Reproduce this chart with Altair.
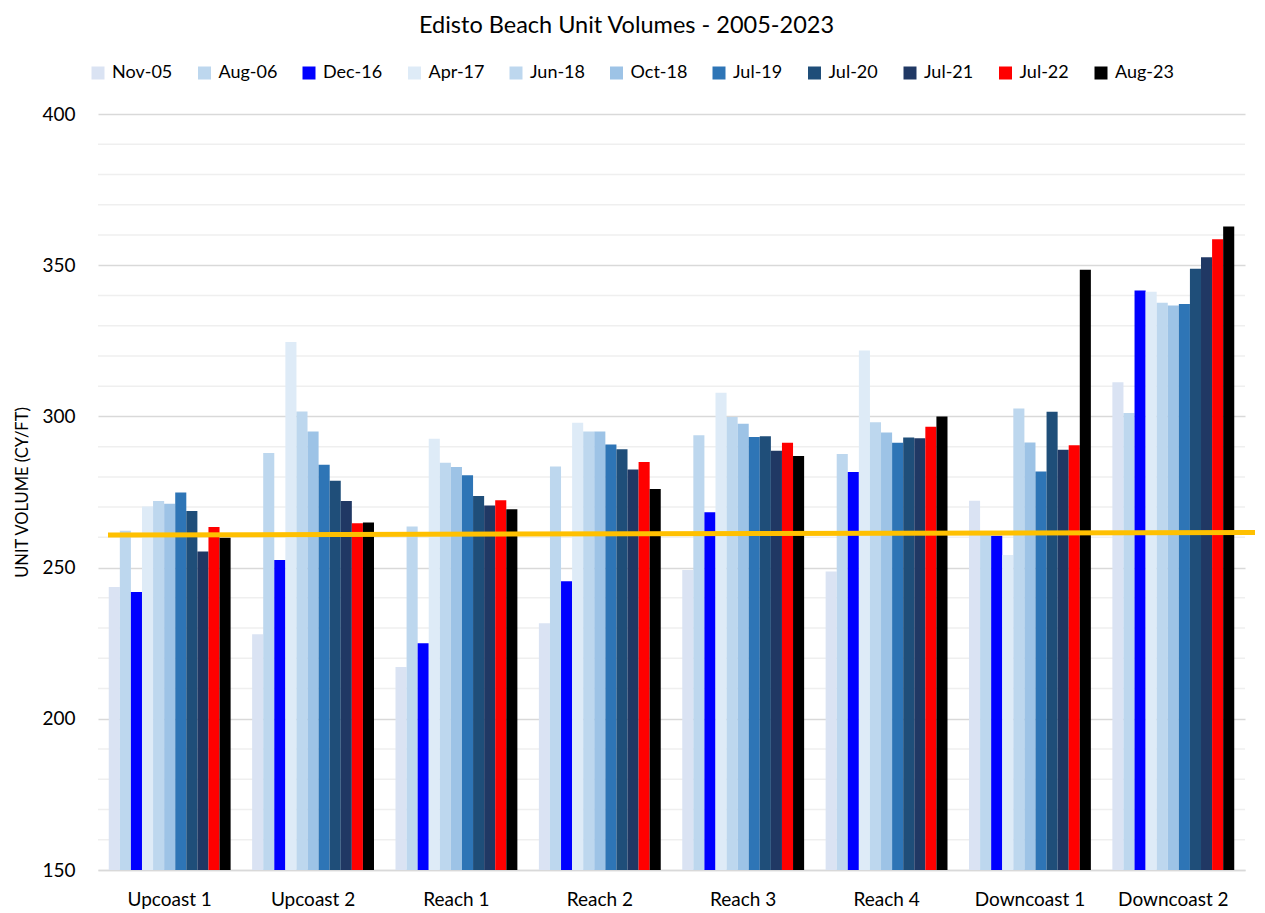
import altair as alt
import pandas as pd

locations = ["Upcoast 1", "Upcoast 2", "Reach 1", "Reach 2", "Reach 3", "Reach 4", "Downcoast 1", "Downcoast 2"]
series = ["Nov-05", "Aug-06", "Dec-16", "Apr-17", "Jun-18", "Oct-18", "Jul-19", "Jul-20", "Jul-21", "Jul-22", "Aug-23"]

nov05 = [243.6, 228.0, 217.1, 231.6, 249.2, 248.7, 272.1, 311.3]
aug06 = [262.2, 287.9, 263.6, 283.4, 293.8, 287.6, 261.0, 301.1]
dec16 = [241.9, 252.5, 225.0, 245.5, 268.3, 281.6, 260.5, 341.6]
apr17 = [270.2, 324.6, 292.6, 297.9, 307.8, 321.8, 254.2, 341.2]
jun18 = [272.0, 301.6, 284.7, 295.0, 299.8, 298.1, 302.6, 337.6]
oct18 = [271.1, 295.0, 283.3, 295.0, 297.6, 294.7, 291.4, 336.7]
jul19 = [274.8, 284.0, 280.5, 290.7, 293.2, 291.3, 281.8, 337.2]
jul20 = [268.7, 278.7, 273.7, 289.1, 293.4, 293.0, 301.5, 348.8]
jul21 = [255.3, 272.0, 270.5, 282.4, 288.6, 292.8, 289.0, 352.6]
jul22 = [263.4, 264.7, 272.3, 284.9, 291.3, 296.6, 290.5, 358.6]
aug23 = [259.9, 264.9, 269.3, 276.0, 286.9, 300.0, 348.5, 362.8]

colors = ["#dae3f3", "#bdd7ee", "#0000ff", "#deebf7", "#bdd7ee", "#9dc3e6",
          "#2e75b6", "#1f4e79", "#203864", "#ff0000", "#000000"]

target_line = [260.8, 261.6]   # yellow reference line (left end, right end)
major_ticks = [150, 200, 250, 300, 350, 400]
minor_ticks = [v for v in range(160, 400, 10) if v % 50 != 0]

all_vals = [nov05, aug06, dec16, apr17, jun18, oct18, jul19, jul20, jul21, jul22, aug23]
rows = []
for s, vals in zip(series, all_vals):
    for loc, v in zip(locations, vals):
        rows.append({"Location": loc, "Series": s, "Volume": v})
df = pd.DataFrame(rows)

FONT = "Lato"
W, H = 1147, 756
y_scale = alt.Scale(domain=[150, 400], nice=False, zero=False)
y_axis = alt.Axis(values=major_ticks, title="UNIT VOLUME (CY/FT)",
                  labelFontSize=19, labelFont=FONT, labelColor="#000000",
                  labelPadding=23, ticks=False, domain=False,
                  gridColor="#d9d9d9", gridWidth=1.5,
                  titleFont=FONT, titleFontSize=16.5, titleFontWeight="normal",
                  titleColor="#000000", titleX=-76, titleY=H / 2,
                  titleAlign="center", titleBaseline="middle", titleAngle=270)

minor = alt.Chart(pd.DataFrame({"v": minor_ticks})).mark_rule(
    color="#efefef", strokeWidth=1.5
).encode(y=alt.Y("v:Q", scale=y_scale, axis=y_axis, title="UNIT VOLUME (CY/FT)"))

bars = alt.Chart(df).mark_bar(clip=True).encode(
    x=alt.X("Location:N", sort=locations,
            scale=alt.Scale(paddingInner=0.15, paddingOuter=0.075),
            axis=alt.Axis(title=None, labelAngle=0, labelFontSize=19, labelFont=FONT,
                          labelColor="#000000", labelPadding=20, ticks=False,
                          domain=True, domainColor="#d9d9d9", domainWidth=1.5, grid=False)),
    xOffset=alt.XOffset("Series:N", sort=series, scale=alt.Scale(paddingInner=0, paddingOuter=0)),
    y=alt.Y("Volume:Q", scale=y_scale, axis=y_axis, title="UNIT VOLUME (CY/FT)"),
    y2=alt.datum(150),
    color=alt.Color("Series:N", sort=series,
                    scale=alt.Scale(domain=series, range=colors),
                    legend=alt.Legend(title=None, orient="none", legendX=-9, legendY=-50,
                                      direction="horizontal", columns=11, columnPadding=22.5,
                                      symbolType="square", symbolSize=169, symbolStrokeWidth=0,
                                      labelFontSize=18, labelFont=FONT, labelColor="#000000",
                                      labelOffset=5)),
)

target = alt.Chart(pd.DataFrame({"a": [target_line[0]], "b": [target_line[1]]})).mark_rule(
    color="#ffc000", strokeWidth=5
).encode(
    y=alt.Y("a:Q", scale=y_scale, axis=y_axis, title="UNIT VOLUME (CY/FT)"),
    y2="b:Q",
    x=alt.value(10),
    x2=alt.value(W + 20),
)

chart = alt.layer(minor, bars, target).properties(
    width=W, height=H,
    title=alt.TitleParams("Edisto Beach Unit Volumes - 2005-2023", fontSize=23.5, font=FONT,
                          fontWeight="normal", color="#000000", anchor="middle",
                          offset=27, dx=-45),
    padding={"left": 90, "top": 106, "right": 10, "bottom": 40},
    autosize=alt.AutoSizeParams(type="none"),
).configure(background="white").configure_view(stroke=None)

chart.save("out.html", embed_options={"renderer": "svg", "actions": False})
